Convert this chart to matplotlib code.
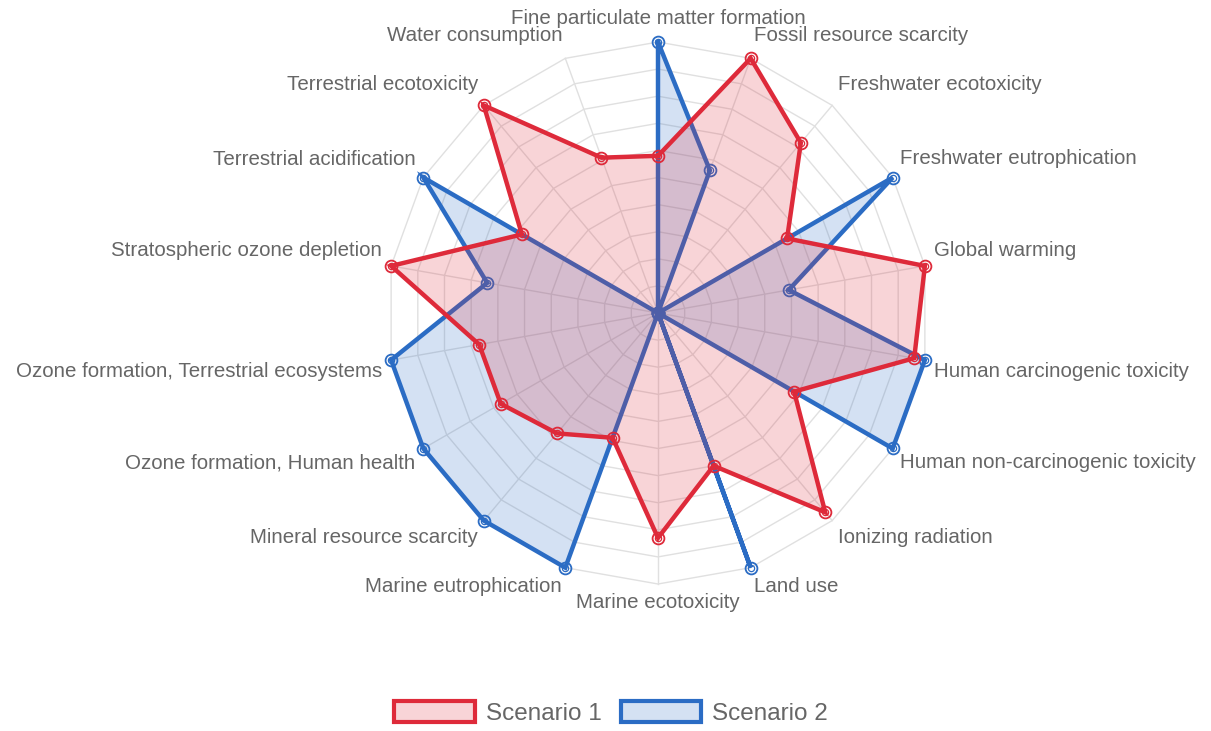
import numpy as np
import matplotlib
matplotlib.use("Agg")
import matplotlib.pyplot as plt
from matplotlib.patches import Patch

categories = [
    "Fine particulate matter formation", "Fossil resource scarcity",
    "Freshwater ecotoxicity", "Freshwater eutrophication", "Global warming",
    "Human carcinogenic toxicity", "Human non-carcinogenic toxicity",
    "Ionizing radiation", "Land use", "Marine ecotoxicity",
    "Marine eutrophication", "Mineral resource scarcity",
    "Ozone formation, Human health", "Ozone formation, Terrestrial ecosystems",
    "Stratospheric ozone depletion", "Terrestrial acidification",
    "Terrestrial ecotoxicity", "Water consumption",
]
scenario1 = [5.8, 10.0, 8.2, 5.5, 10.0, 9.6, 5.8, 9.6, 6.0, 8.3,
             4.9, 5.8, 6.7, 6.7, 10.0, 5.8, 10.0, 6.1]
scenario2 = [10.0, 5.6, 0.0, 10.0, 4.9, 10.0, 10.0, 0.0, 10.0, 0.0,
             10.0, 10.0, 10.0, 10.0, 6.4, 10.0, 0.0, 0.0]
series_names = ["Scenario 1", "Scenario 2"]
rmax = 10
nrings = 10

RED = "#de2a3a"
BLUE = "#2b6cc4"
W, H = 1211, 731
CX, CY = 658, 313
RPX = 271.0
px = rmax / RPX  # data units per pixel

plt.rcParams['font.family'] = ['Liberation Sans', 'DejaVu Sans']
fig = plt.figure(figsize=(W / 100, H / 100), dpi=100)
ax = fig.add_axes([0, 0, 1, 1])
ax.set_xlim(-CX * px, (W - CX) * px)
ax.set_ylim(-(H - CY) * px, CY * px)
ax.axis("off")

n = len(categories)
ang = np.arange(n) * 2 * np.pi / n
sx, sy = np.sin(ang), np.cos(ang)

# grid
for k in range(1, nrings + 1):
    xs = np.append(k * sx, k * sx[0])
    ys = np.append(k * sy, k * sy[0])
    ax.plot(xs, ys, color="#e0e0e0", lw=1.0, zorder=1)
for i in range(n):
    ax.plot([0, rmax * sx[i]], [0, rmax * sy[i]], color="#e0e0e0", lw=1.0, zorder=1)

def draw(vals, color, z):
    v = np.array(vals)
    x = v * sx
    y = v * sy
    xc = np.append(x, x[0]); yc = np.append(y, y[0])
    ax.fill(xc, yc, color=color, alpha=0.2, lw=0, zorder=z)
    ax.plot(xc, yc, color=color, lw=3.2, zorder=z + 0.5, solid_joinstyle="miter")
    ax.plot(x, y, ls="none", marker="o", ms=8.5, mfc="none", mec=color, mew=1.3, zorder=z + 0.6)
    ax.plot(x, y, ls="none", marker="o", ms=4.5, mfc="none", mec=color, mew=0.9, zorder=z + 0.6)

draw(scenario2, BLUE, 2)
draw(scenario1, RED, 4)

# point labels
rl = rmax + 9 * px
for i, lab in enumerate(categories):
    deg = np.degrees(ang[i])
    x = rl * sx[i]
    y = rl * sy[i]
    if np.isclose(deg, 0) or np.isclose(deg, 180):
        ha = "center"
    elif deg < 180:
        ha = "left"
    else:
        ha = "right"
    if deg < 90 or deg > 270:
        y += 14 * px
    elif deg > 90 and deg < 270:
        y -= 10 * px
    ax.text(x, y, lab, ha=ha, va="center", fontsize=14.8, color="#666666", zorder=10)

handles = [Patch(facecolor=(*matplotlib.colors.to_rgb(RED), 0.2), edgecolor=RED, lw=3.0),
           Patch(facecolor=(*matplotlib.colors.to_rgb(BLUE), 0.2), edgecolor=BLUE, lw=3.0)]
fig.legend(handles, series_names, loc="center", bbox_to_anchor=(611 / W, 1 - 713 / H),
           ncol=2, frameon=False, fontsize=17.5, handlelength=3.3, handleheight=0.95,
           handletextpad=0.45, columnspacing=0.8, labelcolor="#666666")

fig.savefig("out.png", dpi=100)
